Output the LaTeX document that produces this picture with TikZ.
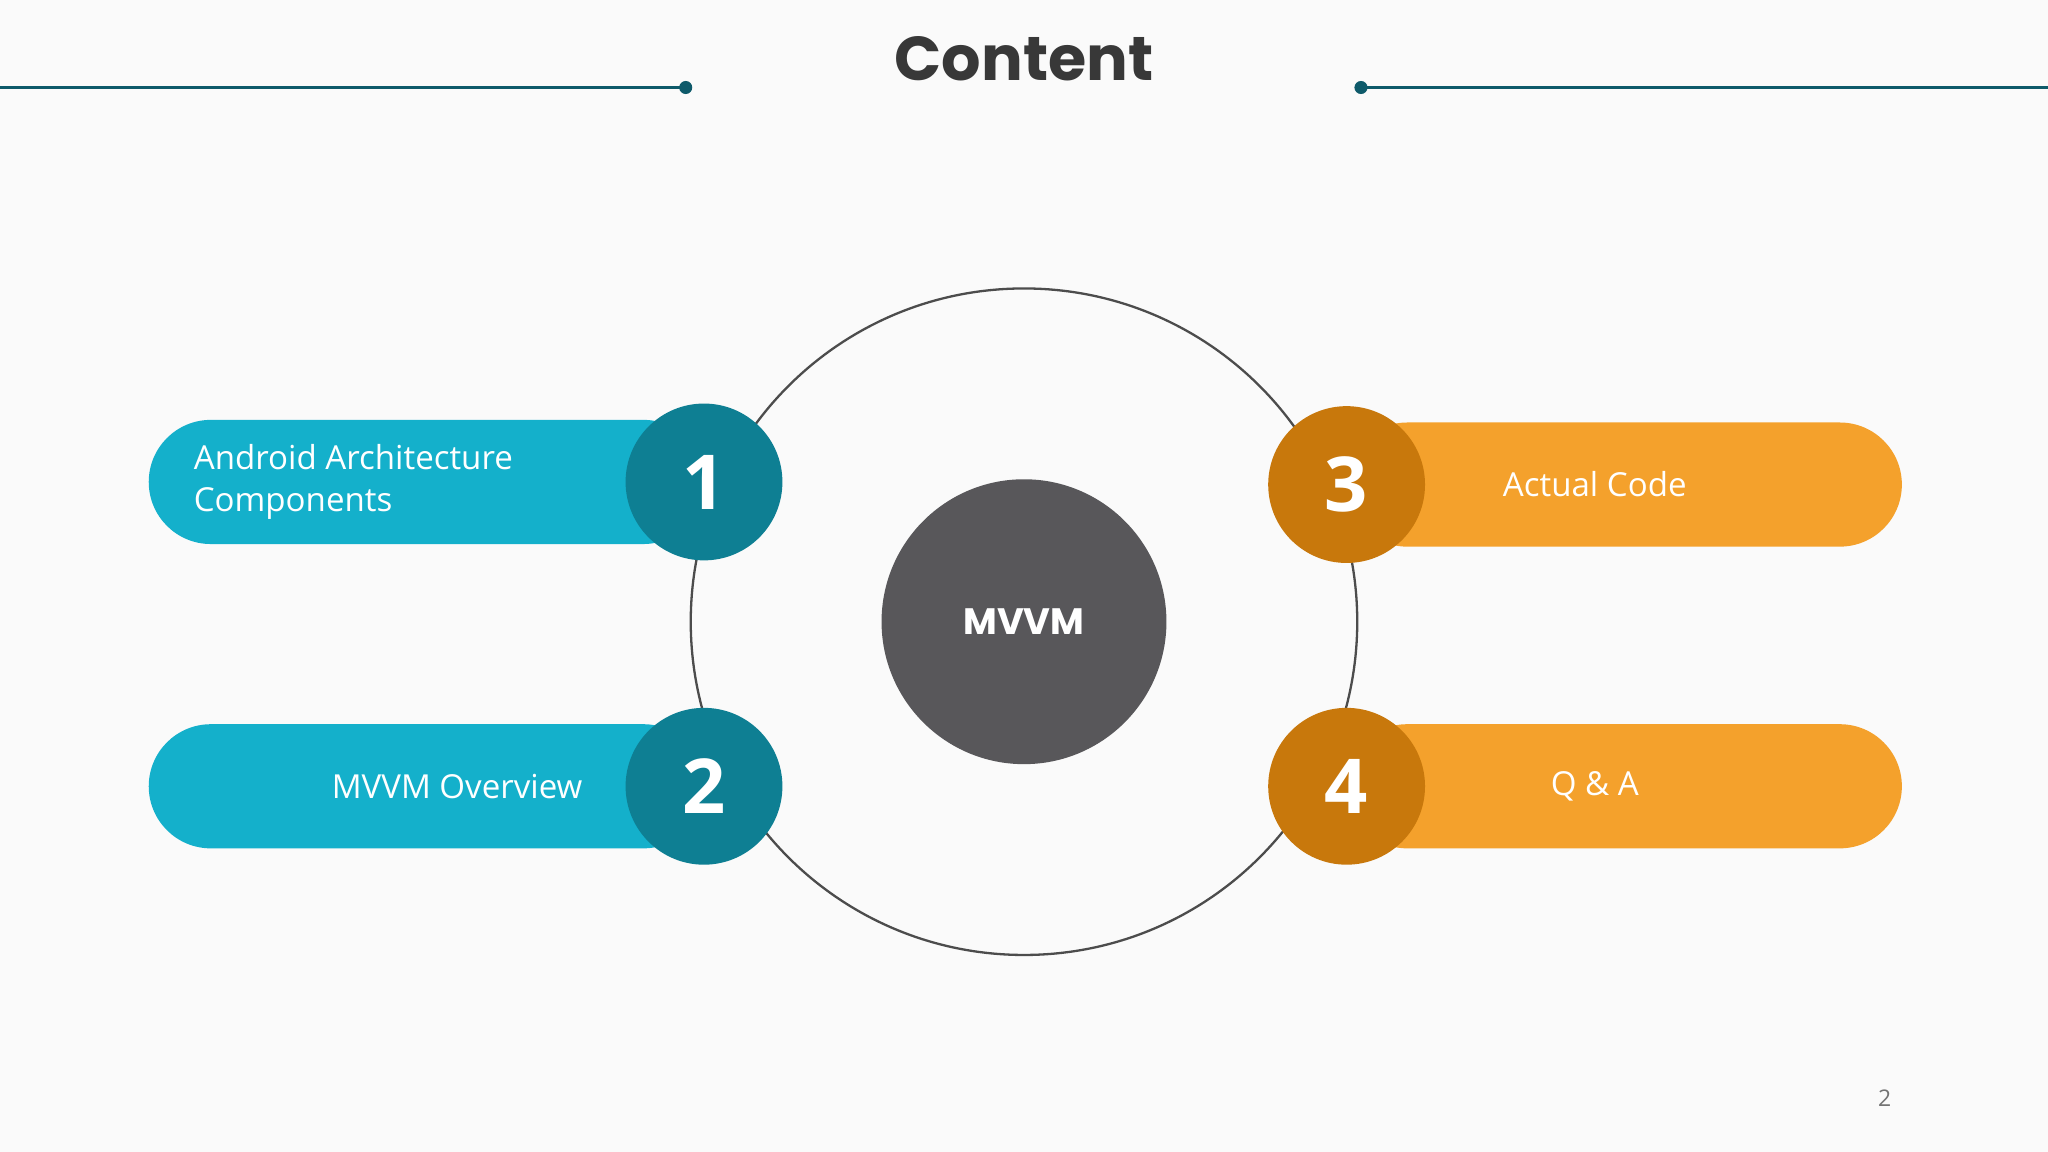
\documentclass[tikz,border=0pt]{standalone}
\usepackage{fontspec}
\setmainfont{Open Sans}
\newfontfamily\headfont{Poppins}
\usetikzlibrary{positioning}
\definecolor{tealdark}{HTML}{0E7F93}
\definecolor{teallight}{HTML}{14B0CB}
\definecolor{orangedark}{HTML}{C8780C}
\definecolor{orangelight}{HTML}{F4A12C}
\definecolor{linecol}{HTML}{0E5A6A}
\definecolor{hubgray}{HTML}{58575A}
\begin{document}
\begin{tikzpicture}[x=0.01cm, y=-0.01cm,
	pill/.style={rectangle, rounded corners=0.475cm, minimum width=4.26cm, minimum height=0.95cm, inner sep=0pt},
	num/.style={circle, minimum size=1.2cm, inner sep=0pt, text=white, font=\fontsize{16.5}{18}\selectfont\bfseries},
	label/.style={text=white, font=\fontsize{7.2}{9.1}\selectfont}]
	% The frame:
	\fill[white!98!black] (0,0) rectangle (1568,882);
	\useasboundingbox (0,0) rectangle (1568,882);
	% Title and rules:
	\node[text=black!78, font=\headfont\fontsize{13.5}{16}\selectfont\bfseries] (title) at (784,45) {Content};
	\coordinate (ll) at (0,67);
	\coordinate (lr) at (525,67);
	\coordinate (rl) at (1042,67);
	\coordinate (rr) at (1568,67);
	\draw[linecol, line width=0.6pt] (ll) -- (lr) (rl) -- (rr);
	\fill[linecol] (lr) circle (0.05cm) (rl) circle (0.05cm);
	% Ring and hub:
	\node[circle, draw=black!70, line width=0.5pt, minimum size=5.1cm] (ring) at (784,476) {};
	\node[circle, fill=hubgray, minimum size=2.18cm, text=white, font=\headfont\fontsize{8}{10}\selectfont\bfseries] (hub) at (784,476) {MVVM};
	% Pills:
	\node[pill, fill=teallight] (p1) at (327,369) {};
	\node[pill, fill=teallight] (p2) at (327,602) {};
	\node[pill, fill=orangelight] (p3) at (1243,371) {};
	\node[pill, fill=orangelight] (p4) at (1243,602) {};
	\node[num, fill=tealdark] (n1) at (539,369) {1};
	\node[num, fill=tealdark] (n2) at (539,602) {2};
	\node[num, fill=orangedark] (n3) at (1031,371) {3};
	\node[num, fill=orangedark] (n4) at (1031,602) {4};
	% Labels:
	\node[label, anchor=west, align=left] (t1) at (136,369) {Android Architecture\\Components};
	\node[label] (t2) at (350,602) {MVVM Overview};
	\node[label] (t3) at (1221,371) {Actual Code};
	\node[label] (t4) at (1221,602) {Q \& A};
	\node[text=black!55, font=\fontsize{5}{6}\selectfont] (page) at (1443,841) {2};
\end{tikzpicture}
\end{document}
